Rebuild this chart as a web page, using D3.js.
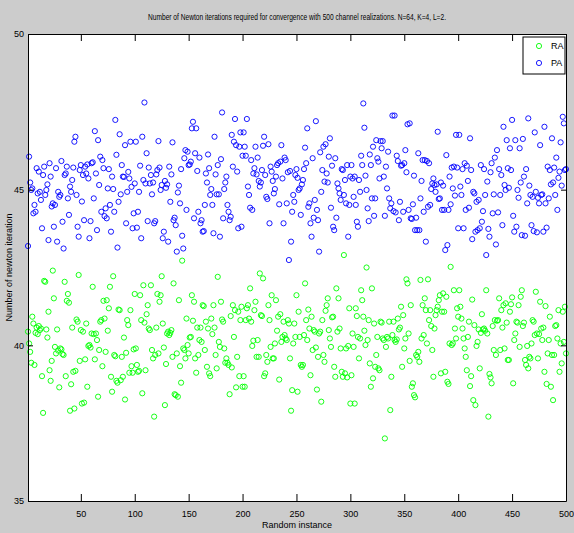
<!DOCTYPE html>
<html>
<head>
<meta charset="utf-8">
<script src="https://cdn.jsdelivr.net/npm/d3@7"></script>
<style>
html,body{margin:0;padding:0;background:#cccccc;}
svg{display:block;}
text{font-family:"Liberation Sans Narrow","Arial Narrow","Liberation Sans",sans-serif;fill:#000;}
</style>
</head>
<body>
<svg id="chart" width="574" height="533"></svg>
<script>
const chartTitle = "Number of Newton iterations required for convergence with 500 channel realizations. N=64, K=4, L=2.";
const xLabel = "Random instance";
const yLabel = "Number of newton iteration";
const seriesNames = ["RA", "PA"];
const seriesColors = ["#00ff00", "#0000ff"];
const xTicks = [50, 100, 150, 200, 250, 300, 350, 400, 450, 500];
const yTicks = [35, 40, 45, 50];

// PA: instances 1..500
const paValues = [
43.19,46.06,45.23,44.99,45.04,44.24,44.51,44.29,45.69,44.88,
45.58,44.93,44.67,43.76,45.47,45.74,44.83,44.99,45.17,43.38,
45.85,45.42,44.46,44.56,43.81,44.51,45.69,43.33,44.93,44.77,
44.83,45.92,43.97,43.11,45.47,45.52,45.74,44.72,44.19,45.10,
44.93,45.31,45.71,46.54,46.70,44.83,43.81,43.49,45.63,45.79,
44.62,45.47,44.02,45.74,45.52,45.81,45.36,43.44,43.99,45.85,
45.88,44.72,46.88,45.52,43.70,46.59,45.15,46.06,44.29,45.95,
45.69,44.15,44.40,44.08,45.04,45.66,44.51,43.65,45.42,45.02,
44.29,47.24,46.12,43.14,44.61,46.78,44.85,45.79,45.42,45.41,
46.43,43.92,44.93,45.57,45.36,46.54,45.09,43.76,44.24,45.20,
46.54,43.78,44.29,44.93,45.77,43.44,46.70,45.31,47.80,45.20,
46.17,43.99,45.71,45.20,45.47,44.85,45.23,43.92,43.99,45.49,
45.63,46.56,45.71,44.99,45.15,43.44,43.65,45.28,45.06,45.17,
43.33,45.74,44.61,45.49,46.52,44.02,44.10,43.86,43.01,44.91,
45.13,44.56,45.66,43.52,43.11,46.01,46.27,44.35,46.22,45.79,
45.81,45.90,46.97,47.18,44.08,46.17,46.97,45.60,44.29,46.03,
43.92,44.02,43.65,43.67,44.51,45.52,45.23,46.13,45.69,44.83,
45.02,44.51,43.60,46.70,45.49,44.85,45.79,44.85,43.49,45.98,
47.48,44.08,45.02,45.23,45.42,44.51,44.29,44.02,44.13,46.76,
45.74,46.54,47.27,46.43,45.58,43.76,46.38,46.84,43.81,46.09,
46.84,46.38,46.09,47.27,45.10,44.83,44.42,45.95,44.35,45.52,
45.69,46.38,45.49,46.03,45.28,45.10,45.23,45.63,46.41,46.70,
45.47,44.77,44.70,46.46,43.92,45.74,45.58,45.28,44.88,45.02,
45.42,45.79,45.85,44.53,45.90,46.43,45.36,43.92,46.03,45.95,
44.56,45.56,42.74,45.60,43.33,44.29,44.83,44.61,45.47,45.66,
45.38,44.99,45.04,44.19,45.17,45.31,45.66,46.35,45.85,46.97,
44.45,44.56,43.92,43.49,46.01,44.10,44.67,47.20,44.35,44.02,
43.01,46.20,44.93,45.63,46.38,45.26,46.46,45.52,45.23,46.06,
46.65,44.42,45.77,43.81,43.70,46.01,44.10,45.20,45.04,44.88,
44.67,45.66,45.63,44.83,45.31,44.56,45.79,43.49,44.51,45.42,
45.79,45.36,44.77,45.42,44.51,43.97,43.81,45.31,44.93,46.09,
45.79,47.77,46.99,45.45,44.99,44.40,43.99,46.13,45.79,44.72,
46.38,44.16,44.72,46.59,46.01,45.90,45.36,46.56,46.33,46.56,
45.42,44.16,45.74,45.04,46.22,44.72,44.40,44.56,47.38,44.31,
47.38,44.27,46.09,45.92,44.02,44.61,45.77,45.79,44.29,45.85,
46.27,45.56,47.10,44.35,47.13,44.08,44.06,44.53,45.45,43.70,
44.10,43.70,46.17,43.70,44.72,45.28,45.95,44.29,45.95,43.33,
45.92,44.45,45.85,44.51,45.02,45.20,45.36,45.15,44.93,45.17,
46.86,44.70,44.72,45.23,44.35,45.13,44.35,43.06,46.11,43.22,
44.35,45.42,44.53,45.71,45.04,45.74,44.81,46.76,45.71,43.76,
46.76,45.10,44.83,45.66,43.76,45.85,44.35,45.77,45.28,44.42,
46.65,45.63,43.41,44.93,44.88,43.65,44.61,43.70,44.67,43.76,
45.79,43.97,44.31,45.66,44.83,42.90,45.26,43.74,43.49,45.56,
45.85,44.24,44.85,46.03,43.24,46.27,44.27,45.66,44.83,45.47,
43.86,47.02,45.15,44.99,46.59,45.69,45.06,46.33,45.63,47.24,
44.16,43.65,46.59,43.81,44.99,44.74,46.33,45.23,43.54,46.63,
45.42,43.52,45.66,44.56,47.29,45.13,44.83,43.86,44.77,43.67,
46.84,44.93,43.63,44.74,44.56,46.43,44.83,44.85,43.65,47.02,
44.56,43.78,45.74,44.72,45.63,45.17,46.65,45.23,45.71,44.83,
46.03,44.35,45.38,45.58,46.52,45.13,47.34,47.13,45.63,45.66
];

// RA: instances 1..500
const raValues = [
40.44,40.06,39.79,39.44,40.92,40.70,39.37,40.40,40.57,40.36,
40.62,40.49,40.54,39.01,37.83,42.07,42.04,40.51,40.25,41.08,
39.20,38.86,39.50,42.40,41.51,39.95,39.74,40.51,39.83,38.65,
39.90,39.87,39.72,39.69,42.04,39.01,41.43,41.65,41.37,37.90,
38.75,40.57,39.15,37.97,39.18,40.83,40.76,42.26,39.50,40.49,
38.13,40.44,38.16,39.55,40.70,38.67,39.98,40.01,39.93,40.38,
41.88,40.36,39.55,40.38,40.17,38.35,39.85,40.76,40.81,39.33,
41.43,40.86,39.79,41.45,40.47,41.19,41.88,38.99,38.51,42.22,
39.69,39.65,38.86,38.80,41.15,41.13,38.88,39.63,38.99,40.25,
38.26,39.76,40.81,40.65,39.12,41.13,39.33,39.12,39.87,41.65,
39.90,39.37,39.15,39.18,41.61,40.81,38.46,41.93,40.73,39.20,
41.00,41.29,40.54,40.49,41.93,39.85,39.58,37.71,39.69,40.57,
41.65,39.74,41.40,41.61,42.22,40.70,39.93,38.08,39.40,40.38,
40.44,40.33,40.40,40.49,39.63,41.99,38.43,38.40,39.74,38.35,
41.45,39.33,38.80,42.72,39.90,39.85,39.58,40.86,40.01,39.74,
40.25,40.27,41.61,40.79,41.40,39.58,39.12,40.57,39.69,40.17,
40.57,40.11,41.29,41.26,39.85,40.76,39.31,40.54,39.10,39.01,
40.86,40.36,41.29,40.57,39.69,39.26,42.20,40.11,39.95,41.40,
40.83,40.76,39.90,39.44,39.58,39.44,39.37,38.43,40.94,39.29,
41.29,40.27,41.13,38.65,39.63,41.08,39.01,40.81,41.24,38.67,
39.01,38.67,40.81,41.19,41.29,40.86,41.83,40.76,39.98,40.15,
41.13,41.40,39.63,40.17,39.63,42.31,40.97,40.94,42.15,39.01,
39.10,39.69,39.47,41.29,40.81,39.95,41.61,39.58,39.58,40.06,
41.45,40.47,40.92,38.90,41.00,40.11,40.27,40.76,40.33,40.22,
40.17,40.81,40.70,39.58,37.90,38.56,40.06,40.70,40.27,41.61,
38.51,41.08,40.27,39.37,39.31,39.37,40.33,41.99,40.81,40.17,
41.15,40.54,39.04,40.92,39.85,40.49,40.44,39.93,38.58,39.63,
40.38,40.44,38.19,40.81,39.69,39.47,41.11,41.29,41.51,40.49,
40.22,39.95,40.90,40.92,39.31,38.99,41.83,40.44,41.51,40.54,
39.90,39.15,38.99,42.90,39.10,39.90,38.97,39.98,41.19,38.13,
39.04,40.38,39.95,38.13,41.19,40.94,40.27,39.58,40.22,41.77,
41.45,40.92,40.47,40.01,42.50,40.17,40.81,39.42,38.67,41.83,
38.94,40.70,39.31,39.69,40.27,39.26,39.20,40.76,40.73,40.22,
40.17,37.01,39.95,40.27,40.22,40.76,37.92,38.99,40.33,40.76,
40.17,40.11,40.19,40.86,40.51,40.57,41.24,39.31,40.97,39.90,
40.22,42.12,41.99,40.38,39.50,41.29,38.67,38.78,38.40,38.33,
39.69,39.63,39.79,39.47,42.10,40.22,41.29,40.33,41.51,41.13,
40.06,42.12,40.81,41.13,40.62,39.85,38.99,40.54,40.97,41.13,
41.24,41.45,41.61,39.10,41.08,41.67,41.08,39.15,41.56,38.83,
38.76,40.06,42.52,40.01,40.06,41.77,40.54,40.22,41.19,40.92,
41.77,41.24,40.86,40.54,40.22,39.90,39.63,39.20,40.27,40.76,
38.69,39.01,41.47,38.24,40.65,38.08,39.98,40.11,40.51,39.26,
40.40,41.00,40.51,40.54,40.47,41.77,40.38,37.71,39.08,38.97,
38.78,40.62,39.85,40.81,39.69,40.79,40.81,41.51,39.85,41.13,
40.57,41.29,39.90,41.35,40.73,39.53,39.53,41.08,41.32,41.54,
38.78,40.17,40.38,40.76,40.73,41.29,39.95,41.56,41.77,40.62,
40.73,39.53,39.37,39.98,39.26,39.63,39.58,40.06,40.81,40.76,
40.33,41.72,40.38,39.58,40.36,41.40,40.54,40.17,40.57,39.15,
41.26,38.76,39.74,40.17,40.92,38.67,39.69,38.24,39.69,40.62,
40.65,40.22,41.13,39.15,40.06,39.42,41.08,40.11,41.24,39.74
];

const series = [
  {name: seriesNames[0], color: seriesColors[0], values: raValues},
  {name: seriesNames[1], color: seriesColors[1], values: paValues}
];

const svg = d3.select("#chart");
const W = 574, H = 533;
const L = 28, R = 566, T = 34, B = 501;

svg.append("rect").attr("x",0).attr("y",0).attr("width",W).attr("height",H).attr("fill","#cccccc");
svg.append("rect").attr("x",L).attr("y",T).attr("width",R-L).attr("height",B-T).attr("fill","#ffffff");

const x = d3.scaleLinear().domain([1, 500]).range([L, R]);
const y = d3.scaleLinear().domain([35, 50]).range([B, T]);

// points
series.forEach(s => {
  svg.append("g").selectAll("circle")
    .data(s.values)
    .join("circle")
    .attr("cx", (d, i) => x(i + 1))
    .attr("cy", d => y(d))
    .attr("r", 2.6)
    .attr("fill", "none")
    .attr("stroke", s.color)
    .attr("stroke-width", 0.9);
});

// axes
const fs = "9px";
const gB = svg.append("g").attr("transform", `translate(0,${B})`)
  .call(d3.axisBottom(x).tickValues(xTicks).tickSize(-7).tickSizeOuter(0).tickPadding(10));
const gT = svg.append("g").attr("transform", `translate(0,${T})`)
  .call(d3.axisTop(x).tickValues(xTicks).tickSize(-7).tickSizeOuter(0).tickFormat(""));
const gL = svg.append("g").attr("transform", `translate(${L},0)`)
  .call(d3.axisLeft(y).tickValues(yTicks).tickSize(-5).tickSizeOuter(0).tickPadding(4));
const gR = svg.append("g").attr("transform", `translate(${R},0)`)
  .call(d3.axisRight(y).tickValues(yTicks).tickSize(-5).tickSizeOuter(0).tickFormat(""));
[gB, gT, gL, gR].forEach(g => {
  g.selectAll("path.domain").attr("stroke", "#000").attr("stroke-width", 1);
  g.selectAll(".tick line").attr("stroke", "#000").attr("stroke-width", 1);
  g.selectAll("text").style("font-size", fs).attr("fill", "#000")
    .style("font-family", '"Liberation Sans Narrow","Arial Narrow",sans-serif');
});

// title and labels
svg.append("text").attr("x", (L + R) / 2).attr("y", 20)
  .attr("text-anchor", "middle").style("font-size", "9px")
  .attr("textLength", 298).attr("lengthAdjust", "spacingAndGlyphs")
  .text(chartTitle);
svg.append("text").attr("x", (L + R) / 2).attr("y", 528)
  .attr("text-anchor", "middle").style("font-size", "9px").text(xLabel);
svg.append("text").attr("transform", `translate(12,${(T + B) / 2}) rotate(-90)`)
  .attr("text-anchor", "middle").style("font-size", "9px").text(yLabel);

// legend
const lg = svg.append("g");
lg.append("rect").attr("x", 523).attr("y", 37).attr("width", 42).attr("height", 37)
  .attr("fill", "#ffffff").attr("stroke", "#000").attr("stroke-width", 1);
series.forEach((s, k) => {
  const yy = 46 + k * 17;
  lg.append("circle").attr("cx", 539).attr("cy", yy).attr("r", 2.6)
    .attr("fill", "none").attr("stroke", s.color).attr("stroke-width", 0.9);
  lg.append("text").attr("x", 551).attr("y", yy + 3).style("font-size", "9px").text(s.name);
});
</script>
</body>
</html>
